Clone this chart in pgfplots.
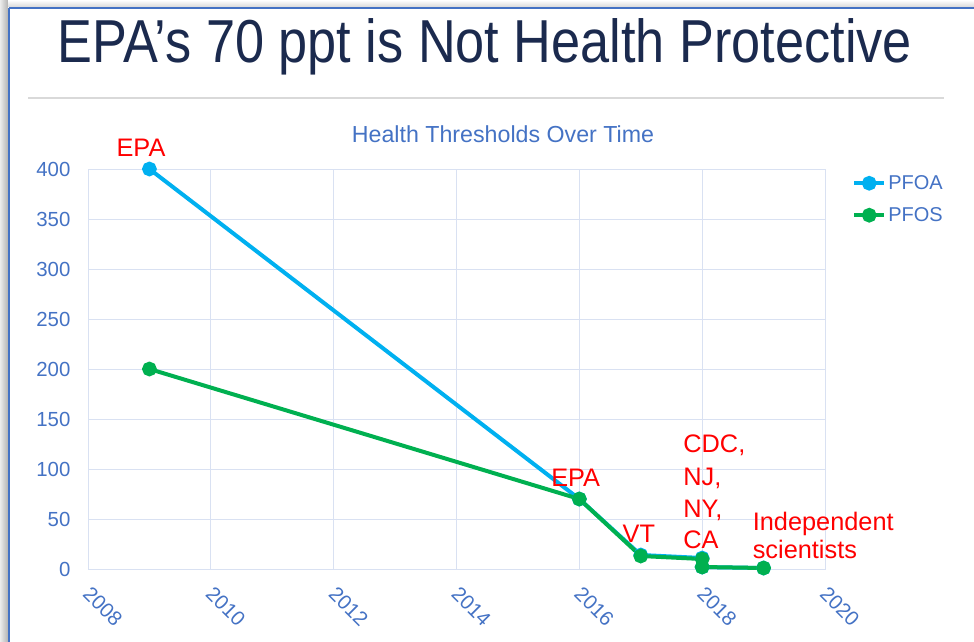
\documentclass[border=0pt]{standalone}
\usepackage{fontspec}
\setmainfont{Liberation Sans}
\usepackage{graphicx}
\usepackage{pgfplots}
\pgfplotsset{compat=1.18}
\definecolor{pfoa}{HTML}{00B0F0}
\definecolor{pfos}{HTML}{00B050}
\definecolor{axblue}{HTML}{4472C4}
\definecolor{gridc}{HTML}{D9E1F2}
\definecolor{ttl}{HTML}{1B2A4E}
\definecolor{sepc}{HTML}{D9D9D9}
\definecolor{annred}{HTML}{FF0000}
\begin{document}
\begin{tikzpicture}
\begin{scope}[x=0.75pt,y=-0.75pt]
\path[use as bounding box] (0,0) rectangle (974,642);
\shade[left color=gray!15, right color=gray!60] (0,0) rectangle (8,642);
\shade[top color=white, bottom color=gray!30] (8,0) rectangle (974,7);
\draw[axblue, line width=2pt] (9,8) -- (974,8);
\draw[axblue, line width=2pt] (9,8) -- (9,642);
\node[anchor=base, text=ttl, inner sep=0pt] at (485,63)
  {\resizebox{640.5pt}{\height}{\fontsize{45.5}{50}\selectfont EPA’s 70 ppt is Not Health Protective}};
\draw[sepc, line width=1.5pt] (28,98) -- (944,98);
\node[text=axblue, inner sep=0pt] at (503,134) {\fontsize{17.4}{20}\selectfont Health Thresholds Over Time};
\end{scope}
\begin{axis}[
  at={(66pt,-426.75pt)}, anchor=south west,
  scale only axis, width=552.75pt, height=300pt,
  xmin=2008, xmax=2020, ymin=0, ymax=400,
  xtick={2008,2010,2012,2014,2016,2018,2020},
  ytick={0,50,100,150,200,250,300,350,400},
  grid=major,
  grid style={gridc, line width=0.75pt},
  axis line style={gridc, line width=0.75pt},
  major tick length=0pt,
  tick label style={text=axblue, font=\fontsize{15.3}{18}\selectfont},
  /pgf/number format/assume math mode=true,
  /pgf/number format/1000 sep={},
  xticklabel style={inner sep=0pt, xshift=-1pt, yshift=-16pt, rotate=-45, anchor=west},
  yticklabel style={inner sep=0pt, anchor=east, xshift=-13pt},
  clip=false,
  legend style={at={(1.0366,0.99)}, anchor=north west, draw=none, fill=none,
    font=\fontsize{15}{18}\selectfont, text=axblue, row sep=9pt, inner sep=0pt,
    nodes={inner sep=1.5pt}},
  legend cell align=left,
  legend image code/.code={\draw[mark repeat=2,mark phase=2] plot coordinates {(0pt,0pt)(11.25pt,0pt)(22.5pt,0pt)};},
]
\addplot[pfoa, line width=3pt, mark=*, mark size=4pt, mark options={draw=none, fill=pfoa}]
  coordinates {(2009,400)(2016,70)(2017,14)(2018,11)(2018,2)(2019,1)};
\addlegendentry{PFOA}
\addplot[pfos, line width=3pt, mark=*, mark size=4pt, mark options={draw=none, fill=pfos}]
  coordinates {(2009,200)(2016,70)(2017,13)(2018,10)(2018,2)(2019,1)};
\addlegendentry{PFOS}
\begin{scope}[every node/.style={text=annred, inner sep=0pt, font=\fontsize{19}{24}\selectfont}]
\node[anchor=base] at (axis cs:2008.863,413) {EPA};
\node[anchor=base] at (axis cs:2015.94,83) {EPA};
\node[anchor=base] at (axis cs:2016.97,27) {VT};
\node[anchor=base west] at (axis cs:2017.69,117) {CDC,};
\node[anchor=base west] at (axis cs:2017.69,84) {NJ,};
\node[anchor=base west] at (axis cs:2017.69,52) {NY,};
\node[anchor=base west] at (axis cs:2017.69,21) {CA};
\node[anchor=base west] at (axis cs:2018.82,39) {Independent};
\node[anchor=base west] at (axis cs:2018.82,11) {scientists};
\end{scope}
\end{axis}
\end{tikzpicture}
\end{document}
